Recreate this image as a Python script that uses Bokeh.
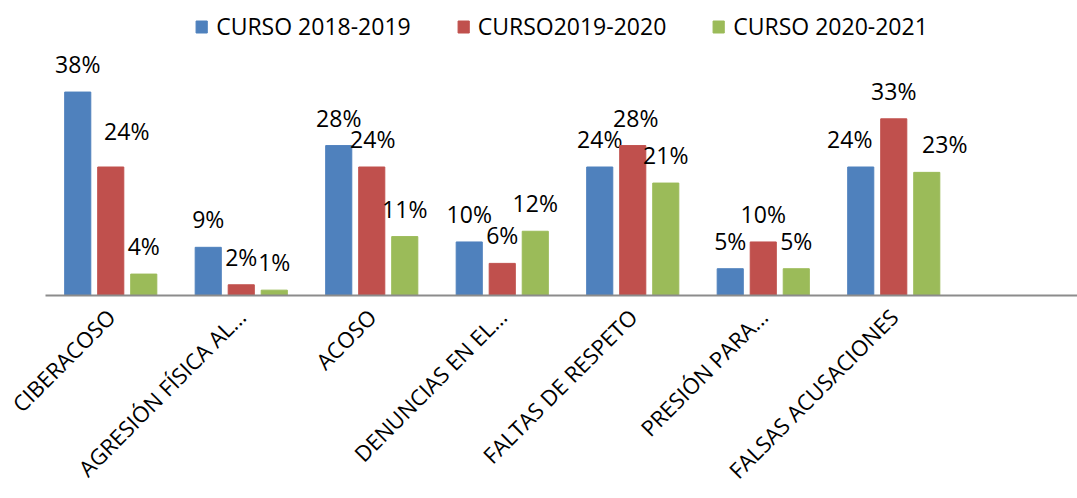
import math
import numpy as np
from bokeh.plotting import figure
from bokeh.models import Range1d, FixedTicker, Legend, LegendItem, ColumnDataSource
from bokeh.core.properties import value
from bokeh.embed import file_html
from bokeh.resources import INLINE

categories = ["CIBERACOSO", "AGRESIÓN FÍSICA AL...", "ACOSO", "DENUNCIAS EN EL...",
              "FALTAS DE RESPETO", "PRESIÓN PARA...", "FALSAS ACUSACIONES"]
series_names = ["CURSO 2018-2019", "CURSO2019-2020", "CURSO 2020-2021"]
curso_2018_2019 = [38, 9, 28, 10, 24, 5, 24]
curso_2019_2020 = [24, 2, 24, 6, 28, 10, 33]
curso_2020_2021 = [4, 1, 11, 12, 21, 5, 23]
series_values = [curso_2018_2019, curso_2019_2020, curso_2020_2021]

colors = ["#4F81BD", "#C0504D", "#9BBB59"]
FONT_NAME = "Open Sans"
FONT = value(FONT_NAME)

# label nudges in screen pixels (series index, category index) -> (dx, dy)
label_nudges = {(1, 0): (16, -8), (1, 2): (1, 0), (1, 4): (3, 0),
                (0, 6): (-11, 0), (2, 6): (18, 0)}

n = len(categories)
x_end = 7.908
p = figure(width=1077, height=498, x_range=Range1d(0, x_end), y_range=Range1d(0, 55.1),
           output_backend="svg", toolbar_location=None, y_axis_location=None,
           min_border_left=45, min_border_right=0, min_border_top=0, min_border_bottom=0)
p.outline_line_color = None
p.grid.visible = False
p.background_fill_color = "white"
p.border_fill_color = "white"

centers = np.arange(n) + 0.5
offsets = [-0.253, 0.0, 0.253]
bar_w = 0.2

items = []
for i, (vals, col, name) in enumerate(zip(series_values, colors, series_names)):
    xs = centers + offsets[i]
    dxs = [label_nudges.get((i, j), (0, 0))[0] for j in range(n)]
    dys = [-28 + label_nudges.get((i, j), (0, 0))[1] for j in range(n)]
    src = ColumnDataSource(dict(x=xs, top=vals, label=[f"{v}%" for v in vals], dx=dxs, dy=dys))
    r = p.vbar(x="x", top="top", width=bar_w, source=src, fill_color=col, line_color=col)
    p.text(x="x", y="top", text="label", x_offset="dx", y_offset="dy", source=src,
           text_align="center", text_baseline="alphabetic", text_font=FONT,
           text_font_size="23px", text_color="black")
    items.append(LegendItem(label=name, renderers=[r]))

legend = Legend(items=items, orientation="horizontal", location="top_center",
                border_line_color=None, background_fill_alpha=0,
                glyph_width=14, glyph_height=15, label_standoff=8, spacing=45,
                padding=4, margin=10, label_text_font=FONT_NAME, label_text_font_size="23px",
                label_text_color="black")
p.add_layout(legend)

ax = p.xaxis[0]
ax.ticker = FixedTicker(ticks=list(centers))
ax.major_label_overrides = {float(c): lab for c, lab in zip(centers, categories)}
ax.major_label_orientation = math.pi / 4
ax.major_tick_line_color = None
ax.minor_tick_line_color = None
ax.axis_line_color = "#8c8c8c"
ax.axis_line_width = 2
ax.major_label_text_font = FONT_NAME
ax.major_label_text_font_size = "22px"
ax.major_label_text_color = "black"
ax.major_label_standoff = 11

open("out.html", "w").write(file_html(p, INLINE))
